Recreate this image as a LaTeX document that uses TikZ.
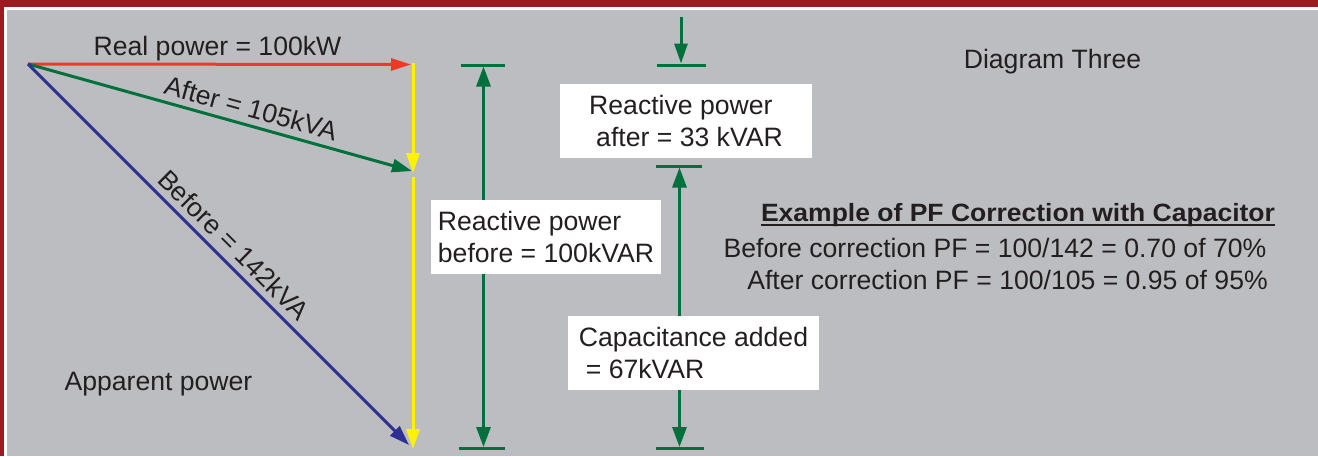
\documentclass[tikz,border=0pt]{standalone}
\usepackage{fontspec}
\setmainfont{Liberation Sans}
\usetikzlibrary{arrows.meta}
\definecolor{bg}{HTML}{BCBDC1}
\definecolor{framered}{HTML}{9B1B21}
\definecolor{vred}{HTML}{EE3A24}
\definecolor{vgreen}{HTML}{00703C}
\definecolor{vblue}{HTML}{2E3192}
\definecolor{vyellow}{HTML}{FFF200}
\definecolor{ink}{HTML}{231F20}
\begin{document}
\begin{tikzpicture}[x=1pt,y=-1pt,
  lbl/.style={font=\fontsize{26.6}{32}\selectfont, text=ink, inner sep=0pt},
  box/.style={fill=white, font=\fontsize{26.6}{32}\selectfont, text=ink, align=left, minimum height=74pt, inner sep=0pt},
  vec/.style={line width=3pt},
  tipA/.style={-{Triangle[length=20pt,width=13pt]}},
  tipB/.style={{Triangle[length=20pt,width=14pt]}-{Triangle[length=20pt,width=14pt]}},
  bar/.style={vgreen, line width=3pt},
]
% frame and background
\fill[framered] (0,0) rectangle (1318,456);
\fill[white] (4.3,7.3) rectangle (1318,456);
\fill[bg] (7.3,10) rectangle (1318,456);
\useasboundingbox (0,0) rectangle (1318,456);

% vector diagram
\coordinate (O) at (28,64);
\coordinate (R) at (411,64.5);
\coordinate (A) at (412,171);
\coordinate (B) at (409,445);
\coordinate (Y1) at (413,63);
\coordinate (Y2) at (413,173);
\coordinate (Y3) at (413,177);
\coordinate (Y4) at (413,449);

\draw[vyellow, vec, tipA] (Y1) -- (Y2);
\draw[vyellow, vec, tipA] (Y3) -- (Y4);
\draw[vred, vec, -{Triangle[length=20pt,width=12pt]}] (O) -- (R);
\draw[vgreen, vec, tipA] (O) -- (A);
\draw[vblue, vec, tipA] (O) -- (B);

\node[lbl, anchor=base] (rp) at (217.5,55) {Real power = 100kW};
\node[lbl, rotate=-15.4] (af) at (251,108) {After = 105kVA};
\node[lbl, rotate=-44.8] (bf) at (234,245) {Before = 142kVA};
\node[lbl, anchor=base] (ap) at (158.5,390) {Apparent power};

% left dimension
\coordinate (L1) at (483.5,66.5);
\coordinate (L2) at (483.5,447);
\draw[bar] (461,65) -- (505,65);
\draw[bar] (459,448.5) -- (505,448.5);
\draw[vgreen, vec, tipB] (L1) -- (L2);
\node[box, minimum width=230pt] (rb) at (546,237) {Reactive power\\before = 100kVAR};

% right dimension
\coordinate (T0) at (681,17);
\coordinate (T1) at (681,63.5);
\coordinate (M1) at (679.5,167.5);
\coordinate (M2) at (679.5,447);
\draw[vgreen, vec, tipA] (T0) -- (T1);
\draw[bar] (657,65) -- (706,65);
\draw[bar] (656,166) -- (702,166);
\draw[bar] (656,448.5) -- (704,448.5);
\draw[vgreen, vec, tipB] (M1) -- (M2);
\node[box, minimum width=252pt] (ra) at (686,121) {Reactive power\\\hspace*{7pt}after = 33 kVAR};
\node[box, minimum width=251pt] (ca) at (693.5,353) {Capacitance added\\\hspace*{7pt}= 67kVAR};

% right text
\node[lbl, anchor=base] (dt) at (1052.5,68.5) {Diagram Three};
\node[lbl, anchor=base, font=\fontsize{25}{30}\selectfont\bfseries, xscale=1.06] (ex) at (1018,221.5) {Example of PF Correction with Capacitor};
\draw[ink, line width=2pt] (761,224.5) -- (1275,224.5);
\node[lbl, anchor=base] (bc) at (995,257.5) {Before correction PF = 100/142 = 0.70 of 70\%};
\node[lbl, anchor=base] (ac) at (1007.5,289.5) {After correction PF = 100/105 = 0.95 of 95\%};
\end{tikzpicture}
\end{document}
